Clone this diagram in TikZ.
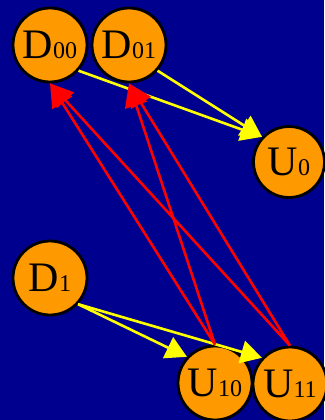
\documentclass[tikz,border=0pt]{standalone}
\usepackage{fontspec}
\setmainfont{Liberation Serif}
\usetikzlibrary{arrows.meta}
\definecolor{bgblue}{RGB}{0,0,142}
\definecolor{ballorange}{RGB}{255,153,0}
\definecolor{arryellow}{RGB}{255,255,0}
\definecolor{arrred}{RGB}{255,0,0}
\newcommand{\lbl}[2]{{\fontsize{42}{42}\selectfont #1}{\fontsize{24}{24}\selectfont #2}}
\begin{document}
\begin{tikzpicture}[x=1pt,y=-1pt,
  ball/.style={circle,draw=black,line width=2.8pt,fill=ballorange,minimum size=74pt,inner sep=0pt,text=black},
  yarrow/.style={draw=arryellow,line width=2.6pt,-{Triangle[length=21pt,width=23pt]}},
  rarrow/.style={draw=arrred,line width=2.6pt,-{Triangle[length=23pt,width=23pt]}}]
\fill[bgblue] (0,0) rectangle (324,420);
\useasboundingbox (0,0) rectangle (324,420);
\node[ball] (D00) at (50,45) {\lbl{D}{00}};
\node[ball] (D01) at (129,45) {\lbl{D}{01}};
\node[ball,minimum size=71pt] (U0) at (289,162) {\lbl{U}{0}};
\node[ball] (D1) at (50,278) {\lbl{D}{1}};
\node[ball] (U10) at (215,383) {\lbl{U}{10}};
\node[ball] (U11) at (290,384) {\lbl{U}{11}};
\draw[yarrow] (D00.-42) -- (U0.137);
\draw[yarrow] (D01.-42) -- (U0.137);
\draw[yarrow] (D1.-43) -- (U10.137);
\draw[yarrow] (D1.-43) -- (U11.137);
\draw[rarrow] (U10.north) -- (D00.south);
\draw[rarrow] (U10.north) -- (D01.south);
\draw[rarrow] (U11.north) -- (D00.south);
\draw[rarrow] (U11.north) -- (D01.south);
\end{tikzpicture}
\end{document}
